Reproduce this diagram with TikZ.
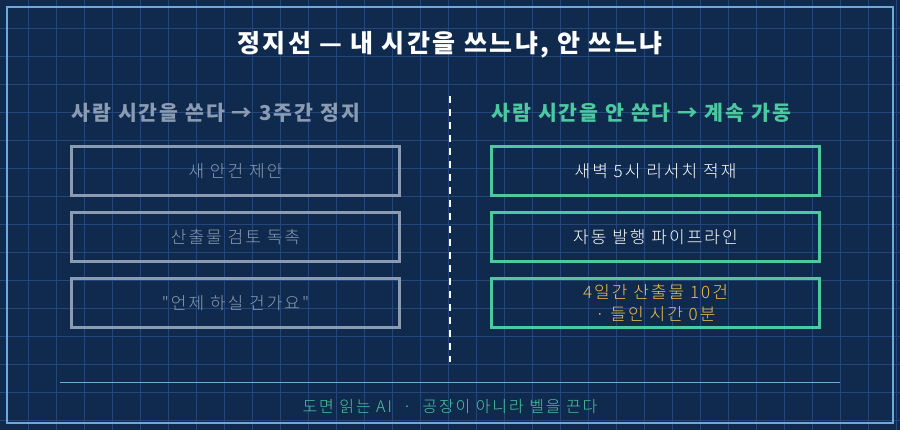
\documentclass[tikz,border=0pt]{standalone}
\usepackage{fontspec}
\setmainfont{Noto Sans CJK KR}[LetterSpace=10]
\newfontfamily\krlight{Noto Sans CJK KR Light}[LetterSpace=12]
\begin{document}
\begin{tikzpicture}[x=1pt,y=-1pt,
  gridc/.style={draw=gridcol,line width=0.8pt},
  lbox/.style={draw=grayc,line width=2.5pt,minimum width=328pt,minimum height=49pt,text=grayc,font=\krlight\fontsize{17}{20}\selectfont,align=center},
  rbox/.style={draw=greenc,line width=2.5pt,minimum width=328pt,minimum height=49pt,text=white,font=\krlight\fontsize{17}{20}\selectfont,align=center}]
\definecolor{bgc}{HTML}{0F2A4D}
\definecolor{gridcol}{HTML}{24467A}
\definecolor{borderc}{HTML}{6FA8DC}
\definecolor{grayc}{HTML}{8A9BB3}
\definecolor{greenc}{HTML}{4CC9A0}
\definecolor{yellowc}{HTML}{F2C14E}
\fill[bgc] (0,0) rectangle (900,430);
\useasboundingbox (0,0) rectangle (900,430);
\foreach \i in {1,...,32} \draw[gridc] (\i*28,0) -- (\i*28,430);
\foreach \j in {1,...,15} \draw[gridc] (0,\j*28) -- (900,\j*28);
\draw[borderc,line width=1.5pt] (7,7) rectangle (893,423);
\node[text=white,font=\bfseries\fontsize{25}{28}\selectfont] (title) at (450,45) {정지선 — 내 시간을 쓰느냐, 안 쓰느냐};
\node[text=grayc,font=\bfseries\fontsize{20.5}{23}\selectfont,anchor=west] (lh) at (68,113) {사람 시간을 쓴다 → 3주간 정지};
\node[text=greenc,font=\bfseries\fontsize{20.5}{23}\selectfont,anchor=west] (rh) at (488,113) {사람 시간을 안 쓴다 → 계속 가동};
\node[lbox] (l1) at (235.5,171) {새 안건 제안};
\node[lbox] (l2) at (235.5,237) {산출물 검토 독촉};
\node[lbox] (l3) at (235.5,303) {"언제 하실 건가요"};
\node[rbox] (r1) at (655.5,171) {새벽 5시 리서치 적재};
\node[rbox] (r2) at (655.5,237) {자동 발행 파이프라인};
\node[rbox,text=yellowc,font=\krlight\fontsize{17}{22}\selectfont] (r3) at (655.5,303) {4일간 산출물 10건\\· 들인 시간 0분};
\coordinate (dt) at (450,96);
\coordinate (db) at (450,362);
\draw[white,line width=2.5pt,dash pattern=on 7pt off 6pt] (dt) -- (db);
\coordinate (hl) at (60,383);
\coordinate (hr) at (840,383);
\draw[borderc,line width=1pt] (hl) -- (hr);
\node[text=greenc,font=\krlight\fontsize{16}{18}\selectfont] (foot) at (450,407) {도면 읽는 AI \ · \ 공장이 아니라 벨을 끈다};
\end{tikzpicture}
\end{document}
